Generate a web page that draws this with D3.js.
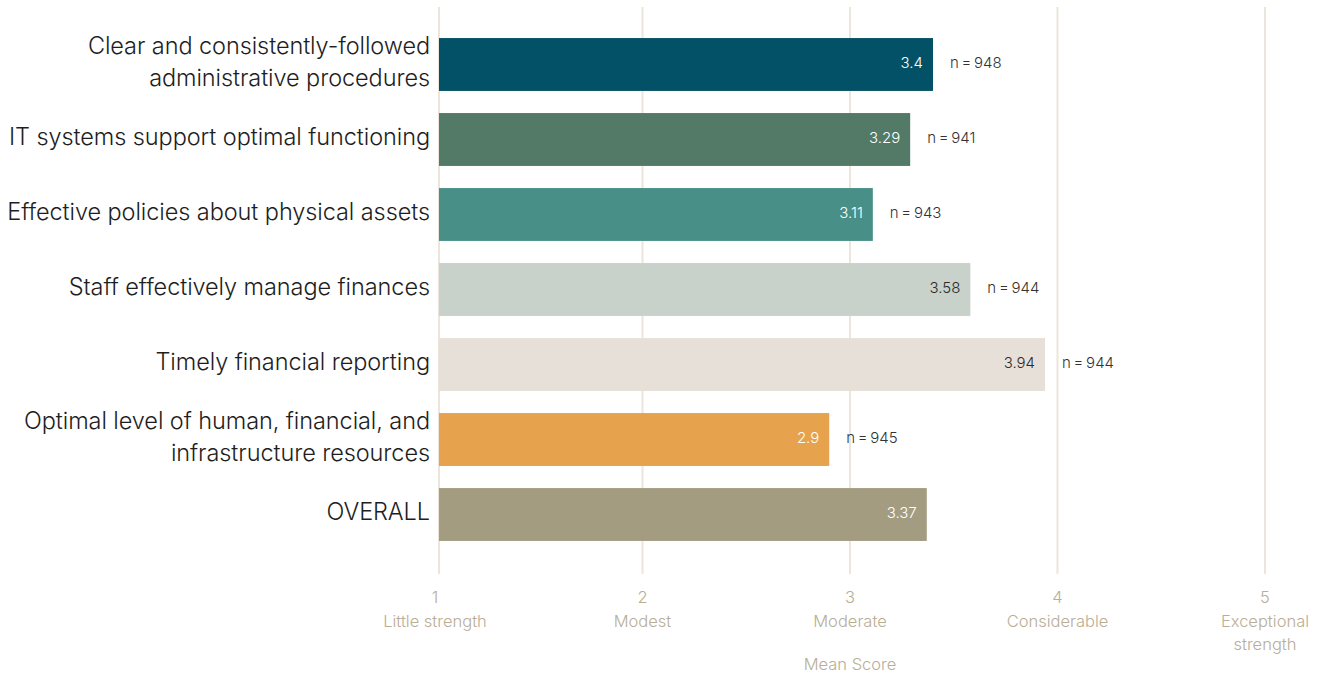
<!DOCTYPE html>
<html>
<head>
<meta charset="utf-8">
<script src="https://cdn.jsdelivr.net/npm/d3@7"></script>
<style>
  html, body { margin: 0; padding: 0; background: #ffffff; }
  svg { display: block; font-family: Inter, "Noto Sans", sans-serif; }
</style>
</head>
<body>
<svg id="chart" width="1327" height="677"></svg>
<script>
// Survey items (top to bottom), each split into display lines
const categories = [
  ["Clear and consistently-followed", "administrative procedures"],
  ["IT systems support optimal functioning"],
  ["Effective policies about physical assets"],
  ["Staff effectively manage finances"],
  ["Timely financial reporting"],
  ["Optimal level of human, financial, and", "infrastructure resources"],
  ["OVERALL"]
];
const meanScores = [3.4, 3.29, 3.11, 3.58, 3.94, 2.9, 3.37];
const valueLabels = ["3.4", "3.29", "3.11", "3.58", "3.94", "2.9", "3.37"];
const respondents = [948, 941, 943, 944, 944, 945, null];
const barColors = ["#035166", "#527a66", "#478f87", "#c8d1ca", "#e7e0d8", "#e6a24c", "#a39c80"];
const valueTextColors = ["#ffffff", "#ffffff", "#ffffff", "#2b2b2b", "#2b2b2b", "#ffffff", "#ffffff"];
const tickValues = [1, 2, 3, 4, 5];
const tickNames = [["Little strength"], ["Modest"], ["Moderate"], ["Considerable"], ["Exceptional", "strength"]];
const axisTitle = "Mean Score";

const svg = d3.select("#chart");
const plotLeft = 439;
const gridTop = 7, gridBottom = 574;
const gridColor = "#ebe5dc";
const axisTextColor = "#b8ae96";

const x = d3.scaleLinear().domain([1, 5]).range([435, 1265]);
const idx = d3.range(categories.length);
const y = d3.scaleBand().domain(idx).range([11.8, 567.2]).paddingInner(0.295).paddingOuter(0.35);

// vertical reference lines
const grid = svg.append("g");
grid.append("line")
  .attr("x1", plotLeft).attr("x2", plotLeft)
  .attr("y1", gridTop).attr("y2", gridBottom)
  .attr("stroke", gridColor).attr("stroke-width", 2);
grid.selectAll("line.g").data(tickValues.slice(1)).join("line")
  .attr("class", "g")
  .attr("x1", d => x(d)).attr("x2", d => x(d))
  .attr("y1", gridTop).attr("y2", gridBottom)
  .attr("stroke", gridColor).attr("stroke-width", 2);

// tick labels along the score axis
const ticks = svg.append("g").attr("fill", axisTextColor).attr("font-size", 16.5)
  .attr("font-weight", 300).attr("text-anchor", "middle");
ticks.selectAll("text.num").data(tickValues).join("text")
  .attr("class", "num")
  .attr("x", d => x(d)).attr("y", 603)
  .text(d => d);
tickValues.forEach((v, i) => {
  tickNames[i].forEach((line, j) => {
    ticks.append("text").attr("x", x(v)).attr("y", 627 + j * 23).text(line);
  });
});
ticks.append("text")
  .attr("x", (x(1) + x(5)) / 2).attr("y", 670)
  .text(axisTitle);

// bars
const bars = svg.append("g");
bars.selectAll("rect").data(idx).join("rect")
  .attr("x", plotLeft)
  .attr("y", i => y(i))
  .attr("width", i => x(meanScores[i]) - plotLeft)
  .attr("height", y.bandwidth())
  .attr("fill", i => barColors[i]);

// value labels inside bar ends
bars.selectAll("text.val").data(idx).join("text")
  .attr("class", "val")
  .attr("x", i => x(meanScores[i]) - 10)
  .attr("y", i => y(i) + y.bandwidth() / 2)
  .attr("dy", "0.25em")
  .attr("text-anchor", "end")
  .attr("font-size", 15)
  .attr("font-weight", 300)
  .attr("fill", i => valueTextColors[i])
  .text(i => valueLabels[i]);

// respondent counts
bars.selectAll("text.n").data(idx.filter(i => respondents[i] != null)).join("text")
  .attr("class", "n")
  .attr("x", i => x(meanScores[i]) + 17)
  .attr("y", i => y(i) + y.bandwidth() / 2)
  .attr("dy", "0.25em")
  .attr("font-size", 15)
  .attr("font-weight", 300)
  .attr("fill", "#333333")
  .text(i => "n\u2009=\u2009" + respondents[i]);

// category labels
const labels = svg.append("g").attr("text-anchor", "end").attr("fill", "#1e1e1e")
  .attr("font-size", 23.5).attr("font-weight", 300).attr("letter-spacing", "-0.08px");
idx.forEach(i => {
  const lines = categories[i];
  const cy = y(i) + y.bandwidth() / 2;
  lines.forEach((line, j) => {
    labels.append("text")
      .attr("x", 430)
      .attr("y", cy + (j - (lines.length - 1) / 2) * 32)
      .attr("dy", "0.25em")
      .text(line);
  });
});
</script>
</body>
</html>
